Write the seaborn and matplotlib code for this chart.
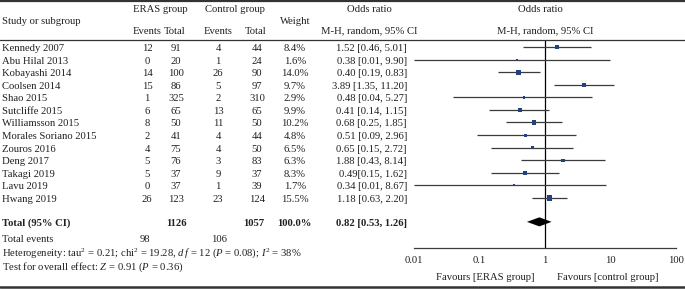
import numpy as np
import pandas as pd
import matplotlib
matplotlib.use("Agg")
import matplotlib.pyplot as plt
from matplotlib.lines import Line2D
import seaborn as sns

sns.set_style("white")
plt.rcParams['font.family'] = ['Liberation Serif', 'DejaVu Serif']
plt.rcParams['mathtext.fontset'] = 'custom'
plt.rcParams['mathtext.rm'] = 'Liberation Serif'
plt.rcParams['mathtext.it'] = 'Liberation Serif:italic'

# data
studies = ['Kennedy 2007', 'Abu Hilal 2013', 'Kobayashi 2014', 'Coolsen 2014', 'Shao 2015',
           'Sutcliffe 2015', 'Williamsson 2015', 'Morales Soriano 2015', 'Zouros 2016',
           'Deng 2017', 'Takagi 2019', 'Lavu 2019', 'Hwang 2019']
eras_events = [12, 0, 14, 15, 1, 6, 8, 2, 4, 5, 5, 0, 26]
eras_total = [91, 20, 100, 86, 325, 65, 50, 41, 75, 76, 37, 37, 123]
ctrl_events = [4, 1, 26, 5, 2, 13, 11, 4, 4, 3, 9, 1, 23]
ctrl_total = [44, 24, 90, 97, 310, 65, 50, 44, 50, 83, 37, 39, 124]
weights = [8.4, 1.6, 14.0, 9.7, 2.9, 9.9, 10.2, 4.8, 6.5, 6.3, 8.3, 1.7, 15.5]
odds = [1.52, 0.38, 0.40, 3.89, 0.48, 0.41, 0.68, 0.51, 0.65, 1.88, 0.49, 0.34, 1.18]
ci_lo = [0.46, 0.01, 0.19, 1.35, 0.04, 0.14, 0.25, 0.09, 0.15, 0.43, 0.15, 0.01, 0.63]
ci_hi = [5.01, 9.90, 0.83, 11.20, 5.27, 1.15, 1.85, 2.96, 2.72, 8.14, 1.62, 8.67, 2.20]
ci_text = ['1.52 [0.46, 5.01]', '0.38 [0.01, 9.90]', '0.40 [0.19, 0.83]', '3.89 [1.35, 11.20]',
           '0.48 [0.04, 5.27]', '0.41 [0.14, 1.15]', '0.68 [0.25, 1.85]', '0.51 [0.09, 2.96]',
           '0.65 [0.15, 2.72]', '1.88 [0.43, 8.14]', '0.49[0.15, 1.62]', '0.34 [0.01, 8.67]',
           '1.18 [0.63, 2.20]']
total_or, total_lo, total_hi = 0.82, 0.53, 1.26
total_eras_n, total_ctrl_n = 1126, 1057
total_eras_ev, total_ctrl_ev = 98, 106
x_ticks = [0.01, 0.1, 1, 10, 100]

df = pd.DataFrame({'study': studies, 'or': odds, 'lo': ci_lo, 'hi': ci_hi,
                   'w': weights, 'row': np.arange(len(studies))})

W, H = 685, 289
fig = plt.figure(figsize=(W / 100, H / 100), dpi=100)

# row layout (pixels)
y0, dy = 47.0, 12.58
total_row = 13.9
ax_top_px, ax_bot_px = 40, 248


def py(i):
    return y0 + i * dy


def fy(px):
    return 1 - px / H


def fx(px):
    return px / W


txt = dict(fontsize=7.7, color='#231f20')

# forest axes
left_px, right_px = 414, 676
ax = fig.add_axes([fx(left_px), fy(ax_bot_px), (right_px - left_px) / W,
                   (ax_bot_px - ax_top_px) / H])
ax.set_xscale('log')
ax.set_xlim(x_ticks[0], x_ticks[-1])
ax.set_ylim((ax_bot_px - y0) / dy, (ax_top_px - y0) / dy)
ax.patch.set_alpha(0)

line_c = '#3b3b3b'
ax.hlines(df['row'], df['lo'], df['hi'], color=line_c, lw=0.9, zorder=2)
sns.scatterplot(data=df, x='or', y='row', size='w', sizes=(2, 14), marker='s',
                color='#24407e', edgecolor='none', legend=False, ax=ax, zorder=3)
ax.fill([total_lo, total_or, total_hi, total_or],
        [total_row, total_row - 0.36, total_row, total_row + 0.36],
        color='black', lw=0, zorder=3)
ax.axvline(1, color='black', lw=0.9, zorder=1)

for s in ['top', 'right', 'left']:
    ax.spines[s].set_visible(False)
ax.spines['bottom'].set_color(line_c)
ax.spines['bottom'].set_linewidth(0.9)
ax.set_yticks([])
ax.set_xticks(x_ticks)
ax.set_xticklabels(['0.01', '0.1', '1', '10', '100'])
ax.minorticks_off()
ax.tick_params(axis='x', direction='in', length=4, width=0.9, color=line_c,
               labelsize=7.7, labelcolor='#231f20', pad=6)
ax.set_xlabel('')
ax.set_ylabel('')

# rules
for ypx, lw in [(1, 1.6), (40, 0.9), (287, 1.8)]:
    fig.add_artist(Line2D([0, 1], [fy(ypx), fy(ypx)], color='#333333', lw=lw))

# header
fig.text(fx(2), fy(22), 'Study or subgroup', ha='left', va='center', **txt)
fig.text(fx(160), fy(10), 'ERAS group', ha='center', va='center', **txt)
fig.text(fx(235), fy(10), 'Control group', ha='center', va='center', **txt)
for x, s in [(147, 'Events'), (175, 'Total'), (218, 'Events'), (256, 'Total')]:
    fig.text(fx(x), fy(31), s, ha='center', va='center', **txt)
fig.text(fx(295), fy(22), 'Weight', ha='center', va='center', **txt)
fig.text(fx(369), fy(10), 'Odds ratio', ha='center', va='center', **txt)
fig.text(fx(369), fy(31), 'M-H, random, 95% CI', ha='center', va='center', **txt)
fig.text(fx(540), fy(10), 'Odds ratio', ha='center', va='center', **txt)
fig.text(fx(545), fy(31), 'M-H, random, 95% CI', ha='center', va='center', **txt)

# study rows
for i, name in enumerate(studies):
    yy = fy(py(i) + 1.5)
    fig.text(fx(2), yy, name, ha='left', va='center', **txt)
    fig.text(fx(147), yy, str(eras_events[i]), ha='center', va='center', **txt)
    fig.text(fx(176), yy, str(eras_total[i]), ha='center', va='center', **txt)
    fig.text(fx(218), yy, str(ctrl_events[i]), ha='center', va='center', **txt)
    fig.text(fx(257), yy, str(ctrl_total[i]), ha='center', va='center', **txt)
    fig.text(fx(295), yy, f'{weights[i]:.1f}%', ha='center', va='center', **txt)
    fig.text(fx(407), yy, ci_text[i], ha='right', va='center', **txt)

# total row
yy = fy(py(total_row) + 1.5)
fig.text(fx(2), yy, 'Total (95% CI)', ha='left', va='center', fontweight='bold', **txt)
fig.text(fx(176), yy, str(total_eras_n), ha='center', va='center', fontweight='bold', **txt)
fig.text(fx(254), yy, str(total_ctrl_n), ha='center', va='center', fontweight='bold', **txt)
fig.text(fx(294), yy, '100.0%', ha='center', va='center', fontweight='bold', **txt)
fig.text(fx(407), yy, f'{total_or:.2f} [{total_lo:.2f}, {total_hi:.2f}]',
         ha='right', va='center', fontweight='bold', **txt)

fig.text(fx(2), fy(239), 'Total events', ha='left', va='center', **txt)
fig.text(fx(145), fy(239), str(total_eras_ev), ha='center', va='center', **txt)
fig.text(fx(219), fy(239), str(total_ctrl_ev), ha='center', va='center', **txt)
fig.text(fx(2), fy(253),
         r'Heterogeneity: tau$^2$ = 0.21; chi$^2$ = 19.28, $d\,f$ = 12 ($P$ = 0.08); $I^2$ = 38%',
         ha='left', va='center', **txt)
fig.text(fx(2), fy(267), r'Test for overall effect: $Z$ = 0.91 ($P$ = 0.36)',
         ha='left', va='center', **txt)

fig.text(fx(534), fy(277), 'Favours [ERAS group]', ha='right', va='center', **txt)
fig.text(fx(557), fy(277), 'Favours [control group]', ha='left', va='center', **txt)

fig.savefig('out.png', dpi=100)
